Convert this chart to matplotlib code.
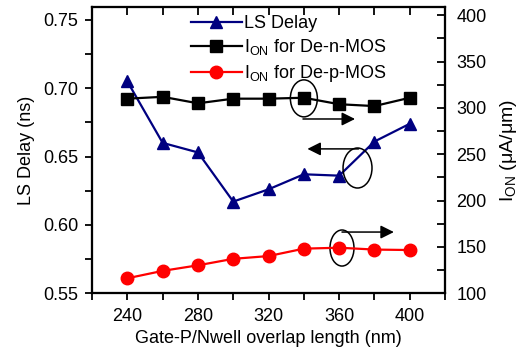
import numpy as np
import matplotlib
matplotlib.use("Agg")
import matplotlib.pyplot as plt
from matplotlib.patches import Ellipse
from matplotlib.ticker import MultipleLocator

plt.rcParams["font.family"] = ["Liberation Sans", "DejaVu Sans"]
plt.rcParams["mathtext.fontset"] = "custom"
plt.rcParams["mathtext.rm"] = "Liberation Sans"
plt.rcParams["mathtext.it"] = "Liberation Sans"
plt.rcParams["font.size"] = 13

overlap = [240, 260, 280, 300, 320, 340, 360, 380, 400]
ls_delay = [0.705, 0.660, 0.653, 0.617, 0.626, 0.637, 0.636, 0.661, 0.674]
ion_n = [310, 312, 305, 310, 310, 311, 304, 302, 311]
ion_p = [116, 124, 130, 137, 140, 148, 149, 147, 146.5]

fig = plt.figure(figsize=(5.23, 3.51), dpi=100)
ax = fig.add_axes([0.176, 0.165, 0.675, 0.815])
ax2 = ax.twinx()
ax3 = ax.twiny()   # only for the inward ticks along the top

l1, = ax.plot(overlap, ls_delay, "-^", color="#000080", lw=1.6, ms=9, label="LS Delay")
l2, = ax2.plot(overlap, ion_n, "-s", color="black", lw=1.6, ms=8, label="I$_{\\mathregular{ON}}$ for De-n-MOS")
l3, = ax2.plot(overlap, ion_p, "-o", color="red", lw=1.6, ms=9, label="I$_{\\mathregular{ON}}$ for De-p-MOS")

ax.set_xlim(220, 420)
ax3.set_xlim(220, 420)
ax.set_ylim(0.55, 0.7595)
ax2.set_ylim(100, 409)

ax.xaxis.set_major_locator(MultipleLocator(40))
ax.xaxis.set_minor_locator(MultipleLocator(20))
ax.yaxis.set_major_locator(MultipleLocator(0.05))
ax.yaxis.set_minor_locator(MultipleLocator(0.025))
ax2.yaxis.set_major_locator(MultipleLocator(50))
ax2.yaxis.set_minor_locator(MultipleLocator(25))
ax3.xaxis.set_major_locator(MultipleLocator(20))
ax.yaxis.set_major_formatter(matplotlib.ticker.FormatStrFormatter("%.2f"))

ax.tick_params(axis="x", which="both", direction="out", top=False, length=5, width=1.3, pad=6)
ax.tick_params(axis="y", which="both", direction="out", length=5, width=1.3, pad=5)
ax2.tick_params(axis="y", which="both", direction="in", length=6, width=1.3, pad=8)
ax3.tick_params(axis="x", which="both", direction="in", length=6, width=1.3, labeltop=False)

for a in (ax, ax2, ax3):
    for s in a.spines.values():
        s.set_linewidth(1.5)

ax.set_xlabel("Gate-P/Nwell overlap length (nm)", labelpad=3)
ax.set_ylabel("LS Delay (ns)", labelpad=6)
ax2.set_ylabel("I$_{\\mathregular{ON}}$ (\u03bcA/\u03bcm)", labelpad=8, fontsize=14)

ax3.legend(handles=[l1, l2, l3], loc="upper left", bbox_to_anchor=(0.25, 1.01),
           frameon=False, handlelength=2.8, handletextpad=0.15, labelspacing=0.3,
           borderaxespad=0.2)

# annotation ellipses and arrows
ellipses = [(340, 0.6926, 15.3, 0.0271), (370.4, 0.6416, 16.4, 0.0293), (361.6, 0.583, 13.6, 0.0264)]
for cx, cy, w, h in ellipses:
    ax.add_patch(Ellipse((cx, cy), w, h, fill=False, ec="black", lw=1.1, zorder=5))

arrows = [((339.5, 0.6775), (369, 0.6775)), ((371, 0.6556), (342, 0.6556)), ((361.6, 0.5947), (391, 0.5947))]
for start, end in arrows:
    ax.annotate("", xy=end, xytext=start,
                arrowprops=dict(arrowstyle="-|>", color="black", lw=1.1, mutation_scale=20,
                                shrinkA=0, shrinkB=0))

fig.savefig("out.png", dpi=100)
